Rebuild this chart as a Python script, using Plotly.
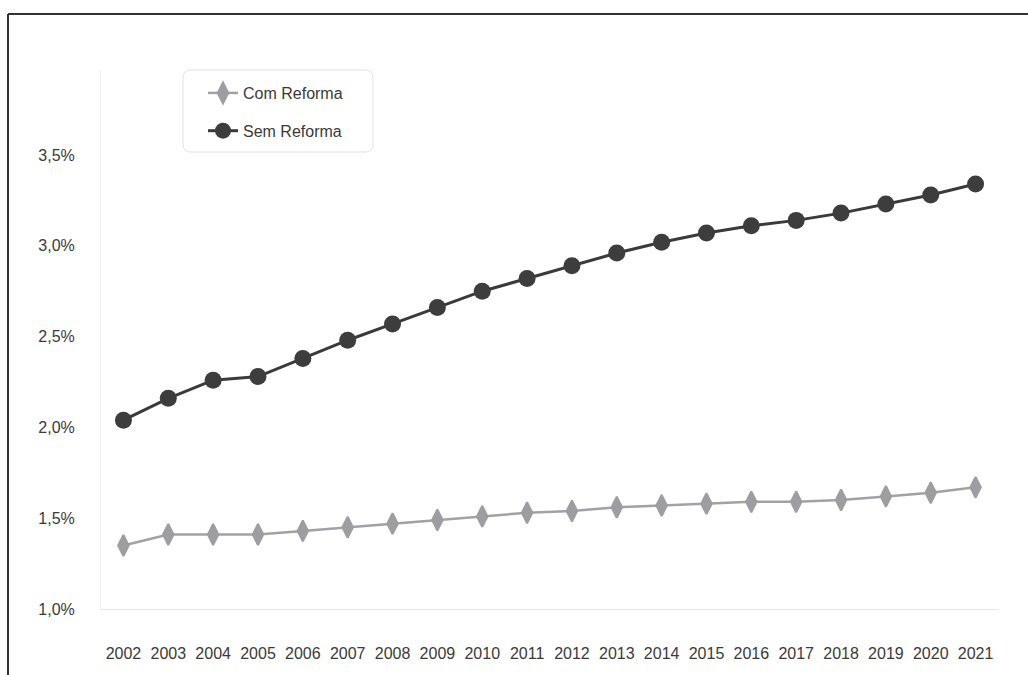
import plotly.graph_objects as go

years = [str(y) for y in range(2002, 2022)]
com_reforma = [1.35, 1.41, 1.41, 1.41, 1.43, 1.45, 1.47, 1.49, 1.51, 1.53,
               1.54, 1.56, 1.57, 1.58, 1.59, 1.59, 1.60, 1.62, 1.64, 1.67]
sem_reforma = [2.04, 2.16, 2.26, 2.28, 2.38, 2.48, 2.57, 2.66, 2.75, 2.82,
               2.89, 2.96, 3.02, 3.07, 3.11, 3.14, 3.18, 3.23, 3.28, 3.34]
y_tickvals = [1.0, 1.5, 2.0, 2.5, 3.0, 3.5]
y_ticktext = ["1,0%", "1,5%", "2,0%", "2,5%", "3,0%", "3,5%"]

FONT = "Liberation Sans, Arial, sans-serif"
TXT = "#3a3a3a"

fig = go.Figure()
fig.add_trace(go.Scatter(
    x=years, y=com_reforma, name="Com Reforma", mode="lines+markers",
    legendgroup="a",
    line=dict(color="#a2a2a6", width=2.5),
    marker=dict(symbol="diamond-tall", size=15, color="#9d9da2",
                line=dict(color="#9d9da2", width=2)),
))
fig.add_trace(go.Scatter(
    x=years, y=sem_reforma, name="Sem Reforma", mode="lines+markers",
    legendgroup="b",
    line=dict(color="#3a3a3a", width=3),
    marker=dict(symbol="circle", size=17, color="#3d3d3d"),
))

L, R, T, B = 101, 998, 71, 609
W, H = 1028, 675
pw, ph = R - L, B - T


def px(x):
    return (x - L) / pw


def py(y):
    return (B - y) / ph


# rounded legend box
x0, x1, y0, y1 = px(183), px(373), py(152), py(70)
rx, ry = 8 / pw, 8 / ph
path = (f"M {x0+rx},{y1} L {x1-rx},{y1} Q {x1},{y1} {x1},{y1-ry} "
        f"L {x1},{y0+ry} Q {x1},{y0} {x1-rx},{y0} L {x0+rx},{y0} "
        f"Q {x0},{y0} {x0},{y0+ry} L {x0},{y1-ry} Q {x0},{y1} {x0+rx},{y1} Z")

shapes = [
    dict(type="path", xref="paper", yref="paper", path=path,
         line=dict(color="#e2e2e2", width=1), fillcolor="rgba(0,0,0,0)", layer="below"),
    # outer frame (top and left edges)
    dict(type="line", xref="paper", yref="paper", x0=px(8), x1=px(1030), y0=py(14), y1=py(14),
         line=dict(color="#333333", width=2)),
    dict(type="line", xref="paper", yref="paper", x0=px(8), x1=px(8), y0=py(14), y1=py(680),
         line=dict(color="#333333", width=2)),
]

fig.update_layout(
    width=W, height=H,
    margin=dict(l=L, r=W - R, t=T, b=H - B),
    paper_bgcolor="white", plot_bgcolor="white",
    font=dict(family=FONT, size=16, color=TXT),
    showlegend=True,
    legend=dict(
        x=px(203), y=py(76), xanchor="left", yanchor="top",
        bgcolor="rgba(0,0,0,0)", borderwidth=0,
        font=dict(family=FONT, size=16, color=TXT),
        traceorder="grouped", tracegroupgap=14,
    ),
    xaxis=dict(
        type="category", range=[-0.5, 19.5],
        showgrid=False, zeroline=False,
        showline=True, linecolor="#e6e6e6", linewidth=1,
        ticks="", ticklabelstandoff=30,
        tickfont=dict(family=FONT, size=16, color=TXT),
    ),
    yaxis=dict(
        range=[1.0, 1.0 + ph / 181.6],
        tickvals=y_tickvals, ticktext=y_ticktext,
        showgrid=False, zeroline=False,
        showline=True, linecolor="#ececec", linewidth=1,
        ticks="", ticklabelstandoff=22,
        tickfont=dict(family=FONT, size=16, color=TXT),
    ),
    shapes=shapes,
)

fig.write_html("out.html")
